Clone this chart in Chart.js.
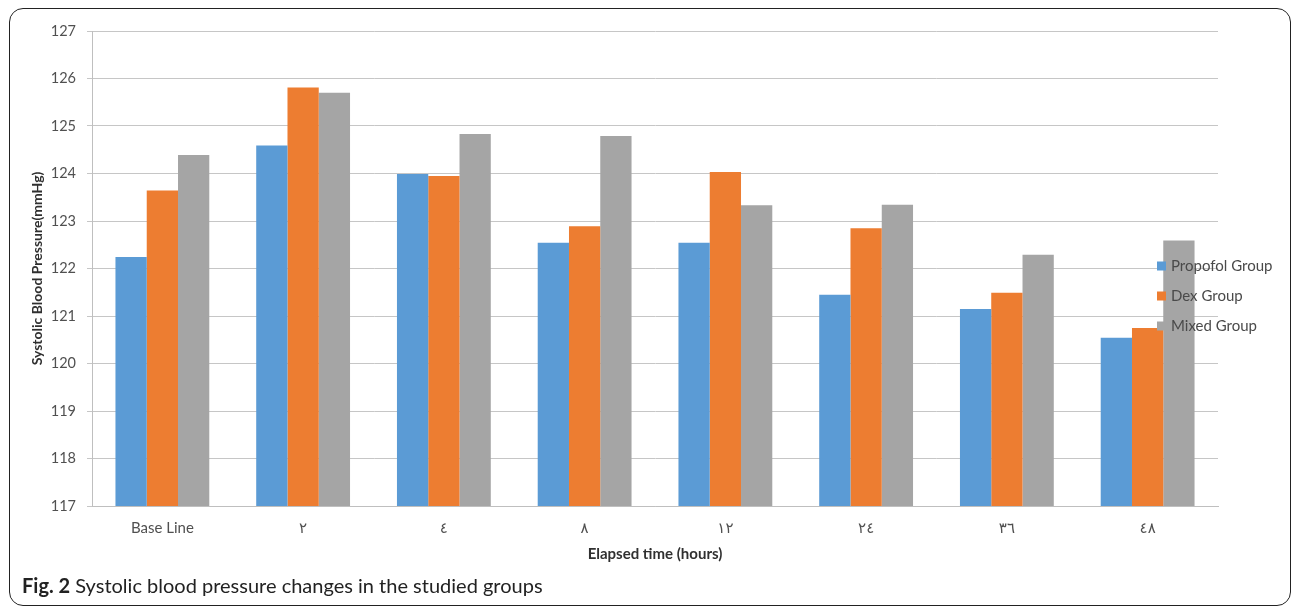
<!DOCTYPE html>
<html>
<head>
<meta charset="utf-8">
<script src="https://cdn.jsdelivr.net/npm/chart.js@4/dist/chart.umd.min.js"></script>
<style>
  html, body { margin: 0; padding: 0; background: #ffffff; }
  #wrap { position: relative; width: 1292px; height: 607px; overflow: hidden; background: #ffffff; }
  #chart { position: absolute; left: 0; top: 0; }
  #frame {
    position: absolute; left: 9px; top: 8px; width: 1280px; height: 596px;
    border: 1.5px solid #222222; border-radius: 14px; pointer-events: none;
  }
  #caption {
    position: absolute; left: 22px; top: 573px; margin: 0;
    font-family: Lato, "Open Sans", sans-serif; font-size: 20px; line-height: 24px;
    color: #222222; white-space: nowrap;
  }
  #caption b { font-weight: 700; }
</style>
</head>
<body>
<div id="wrap">
  <canvas id="chart" width="1292" height="607"></canvas>
  <div id="frame"></div>
  <p id="caption"><b>Fig. 2</b> Systolic blood pressure changes in the studied groups</p>
</div>
<script>
// Time points after the start of sedation (Arabic-Indic numerals as printed)
const categories = ['Base Line', '٢', '٤', '٨', '١٢', '٢٤', '٣٦', '٤٨'];

// Mean systolic blood pressure (mmHg) per group
const propofolValues = [122.24, 124.59, 123.99, 122.54, 122.54, 121.45, 121.15, 120.54];
const dexValues      = [123.64, 125.81, 123.95, 122.89, 124.03, 122.85, 121.49, 120.75];
const mixedValues    = [124.39, 125.70, 124.83, 124.79, 123.33, 123.34, 122.29, 122.59];

const seriesNames = ['Propofol Group', 'Dex Group', 'Mixed Group'];

// Value axis range and step
const yMin = 117;
const yMax = 127;
const yStep = 1;

const seriesColors = ['#5B9BD5', '#ED7D31', '#A5A5A5'];
const seriesValues = [propofolValues, dexValues, mixedValues];

const textFont = 'Lato, "Open Sans", "DejaVu Sans", sans-serif';

// Legend drawn inside the plot, on top of the bars, near the right edge
const overlayLegend = {
  id: 'overlayLegend',
  afterDatasetsDraw(chart, args, opts) {
    const ctx = chart.ctx;
    const area = chart.chartArea;
    ctx.save();
    ctx.font = opts.fontSize + 'px ' + textFont;
    ctx.textBaseline = 'middle';
    ctx.textAlign = 'left';
    chart.data.datasets.forEach((ds, i) => {
      const x = area.right - opts.offsetRight;
      const y = area.top + opts.offsetTop + i * opts.spacing;
      ctx.fillStyle = ds.backgroundColor;
      ctx.fillRect(x, y - opts.box / 2, opts.box, opts.box);
      ctx.fillStyle = opts.color;
      ctx.fillText(ds.label, x + opts.box + opts.gap, y);
    });
    ctx.restore();
  }
};

new Chart(document.getElementById('chart'), {
  type: 'bar',
  data: {
    labels: categories,
    datasets: seriesNames.map((name, i) => ({
      label: name,
      data: seriesValues[i],
      backgroundColor: seriesColors[i],
      borderWidth: 0,
      categoryPercentage: 3 / 4.5,
      barPercentage: 1.0
    }))
  },
  options: {
    responsive: false,
    animation: false,
    events: [],
    layout: { padding: { left: 29, top: 31, right: 74, bottom: 43.5 } },
    plugins: {
      legend: { display: false },
      tooltip: { enabled: false },
      overlayLegend: { offsetRight: 61, offsetTop: 235, spacing: 30, box: 9, gap: 5, fontSize: 15, color: '#4a4a4a' }
    },
    scales: {
      x: {
        grid: { display: false, drawTicks: false },
        border: { display: true, color: '#BFBFBF', width: 1 },
        ticks: { color: '#505050', font: { family: textFont, size: 15 }, padding: 13, maxRotation: 0 },
        title: {
          display: true, text: 'Elapsed time (hours)', color: '#303030',
          font: { family: textFont, size: 15, weight: 'bold' }, padding: { top: 0, bottom: 0 }
        },
        afterFit(scale) { scale.height = 57.5; }
      },
      y: {
        min: yMin, max: yMax,
        grid: { color: '#C6C6C6', lineWidth: 1, drawTicks: true, tickLength: 5 },
        border: { display: true, color: '#BFBFBF', width: 1 },
        ticks: { stepSize: yStep, color: '#505050', font: { family: textFont, size: 14.5 }, padding: 11 },
        title: {
          display: true, text: 'Systolic Blood Pressure(mmHg)', color: '#303030',
          font: { family: textFont, size: 14, weight: 'bold' }, padding: { top: 0, bottom: 0 }
        },
        afterFit(scale) { scale.width = 63; }
      }
    }
  },
  plugins: [overlayLegend]
});
</script>
</body>
</html>
